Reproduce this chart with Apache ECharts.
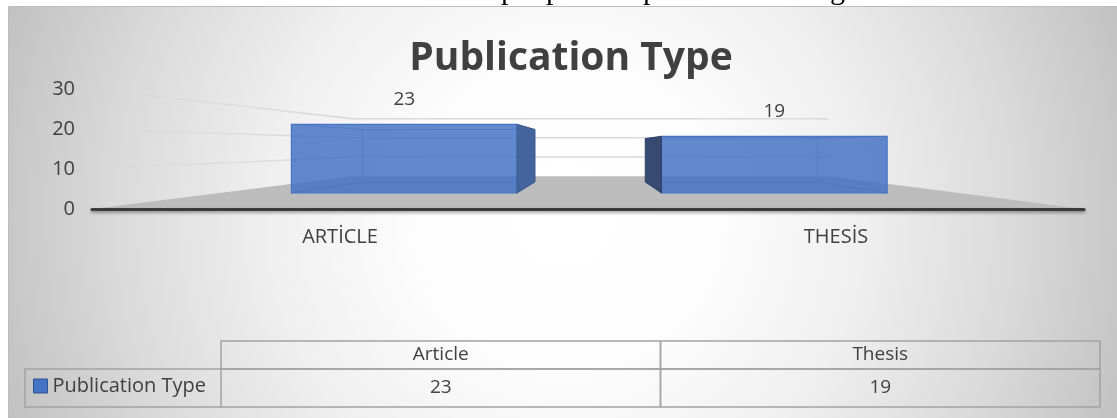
<!DOCTYPE html>
<html>
<head>
<meta charset="utf-8">
<script src="https://cdn.jsdelivr.net/npm/echarts@6/dist/echarts.min.js"></script>
<style>
  html, body { margin: 0; padding: 0; background: #ffffff; }
  #chart { width: 1117px; height: 418px; }
</style>
</head>
<body>
<div id="chart"></div>
<script>
// ---- chart data ----
const chartTitle = 'Publication Type';
const seriesName = 'Publication Type';
const categories = ['ARTİCLE', 'THESİS'];
const tableHeaders = ['Article', 'Thesis'];
const publicationCounts = [23, 19];
const valueTicks = [0, 10, 20, 30];
// tail of the caption line running above the chart
const captionGlyphs = ['p', 'p', 'p', 'g'];

// ---- look & perspective settings ----
const FONT = "'Open Sans', 'Noto Sans', sans-serif";
const TEXT_DARK = '#404040';
// vanishing point, as a fraction of the plot area
const VP_FX = 0.505, VP_FY = 0.475;
// how far each plane sits from the front plane (1 = front, smaller = deeper)
const DEPTH_BAR_FRONT = 0.746, DEPTH_BAR_BACK = 0.57, DEPTH_WALL = 0.48;
const BAR_FRACTION = 0.61;
const HEADER_ROW_H = 28;
const CAPTION_X = [501, 546, 643, 830];

function camera(cs) {
  const vx = cs.x + cs.width * VP_FX;
  const vy = cs.y + cs.height * VP_FY;
  const project = (x, y, f) => [vx + (x - vx) * f, vy + (y - vy) * f];
  project.vx = vx;
  return project;
}

// floor and wall gridlines of the 3-D frame
function renderFrame(params, api) {
  const cs = params.coordSys;
  const P = camera(cs);
  const v = api.value(1);
  const y = api.coord([0, v])[1];
  const xl = cs.x, xr = cs.x + cs.width;
  const bl = P(xl, y, DEPTH_WALL), br = P(xr, y, DEPTH_WALL);
  if (v === valueTicks[0]) {
    return {
      type: 'polygon',
      shape: { points: [[xl, y], [xr, y], br, bl] },
      style: { fill: '#bcbcbc' }
    };
  }
  return {
    type: 'group',
    children: [
      {
        type: 'line',
        shape: { x1: xl, y1: y, x2: bl[0], y2: bl[1] },
        style: {
          stroke: new echarts.graphic.LinearGradient(xl, y, bl[0], bl[1], [
            { offset: 0, color: 'rgba(215,215,215,0.25)' },
            { offset: 1, color: 'rgba(215,215,215,1)' }
          ], true),
          lineWidth: 1.5
        }
      },
      {
        type: 'line',
        shape: { x1: bl[0], y1: bl[1], x2: br[0], y2: br[1] },
        style: { stroke: '#d9d9d9', lineWidth: 1.5 }
      }
    ]
  };
}

// transparent 3-D box for each category
function renderBar(params, api) {
  const cs = params.coordSys;
  const P = camera(cs);
  const idx = api.value(0), val = api.value(1);
  const base = api.coord([idx, 0]);
  const top = api.coord([idx, val]);
  const half = api.size([1, 0])[0] * BAR_FRACTION / 2;
  const xl = base[0] - half, xr = base[0] + half, y0 = base[1], y1 = top[1];
  const face = f => [P(xl, y1, f), P(xr, y1, f), P(xr, y0, f), P(xl, y0, f)];
  const F = face(DEPTH_BAR_FRONT), B = face(DEPTH_BAR_BACK);
  const rightVisible = base[0] < P.vx;
  const side = rightVisible ? [F[1], B[1], B[2], F[2]] : [B[0], F[0], F[3], B[3]];
  const hiddenEdge = { stroke: 'rgba(45,85,165,0.45)', lineWidth: 1 };
  const ln = (a, b) => ({ type: 'line', shape: { x1: a[0], y1: a[1], x2: b[0], y2: b[1] }, style: hiddenEdge });
  const hidden = rightVisible
    ? [ln(B[0], B[1]), ln(B[3], B[2]), ln(B[0], B[3]), ln(F[0], B[0]), ln(F[3], B[3])]
    : [ln(B[0], B[1]), ln(B[3], B[2]), ln(B[1], B[2]), ln(F[1], B[1]), ln(F[2], B[2])];
  return {
    type: 'group',
    children: hidden.concat([
      {
        type: 'polygon',
        shape: { points: F },
        style: { fill: 'rgba(68,114,196,0.84)', stroke: '#4673c3', lineWidth: 1.2 }
      },
      {
        type: 'polygon',
        shape: { points: side },
        style: { fill: rightVisible ? '#44649d' : '#364a72', stroke: rightVisible ? '#3d5b90' : '#2f4066', lineWidth: 1 }
      },
      {
        type: 'text',
        style: {
          x: (F[0][0] + F[1][0]) / 2,
          y: F[0][1] - 25,
          text: String(val),
          font: '19px ' + FONT,
          fill: TEXT_DARK,
          align: 'center',
          verticalAlign: 'middle'
        }
      }
    ])
  };
}

// data table under the plot
function renderTableCell(params, api) {
  const cs = params.coordSys;
  const idx = api.value(0), val = api.value(1);
  const cx = api.coord([idx, 0])[0];
  const w = api.size([1, 0])[0];
  const x = cx - w / 2;
  const yTop = cs.y, yMid = cs.y + HEADER_ROW_H, yBot = cs.y + cs.height;
  const border = { fill: 'none', stroke: '#a3a3a3', lineWidth: 1.5 };
  return {
    type: 'group',
    children: [
      { type: 'rect', shape: { x: x, y: yTop, width: w, height: HEADER_ROW_H }, style: border },
      { type: 'rect', shape: { x: x, y: yMid, width: w, height: yBot - yMid }, style: border },
      {
        type: 'text',
        style: { x: cx, y: (yTop + yMid) / 2, text: tableHeaders[idx], font: '19px ' + FONT, fill: TEXT_DARK, align: 'center', verticalAlign: 'middle' }
      },
      {
        type: 'text',
        style: { x: cx, y: (yMid + yBot) / 2, text: String(val), font: '19px ' + FONT, fill: TEXT_DARK, align: 'center', verticalAlign: 'middle' }
      }
    ]
  };
}

const chart = echarts.init(document.getElementById('chart'), null, { renderer: 'canvas' });

const barData = publicationCounts.map((v, i) => [i, v]);

// only the descenders of the caption line reach into view
const captionTexts = captionGlyphs.map((g, i) => ({
  type: 'text',
  z: 20,
  style: {
    x: CAPTION_X[i],
    y: 6,
    text: g,
    font: "30px 'Liberation Serif', 'DejaVu Serif', serif",
    fill: '#000000',
    align: 'left',
    verticalAlign: 'bottom'
  }
}));

chart.setOption({
  animation: false,
  backgroundColor: '#ffffff',
  title: {
    text: chartTitle,
    left: 566,
    textAlign: 'center',
    top: 34,
    textStyle: { fontFamily: FONT, fontSize: 39, fontWeight: 'bold', color: TEXT_DARK }
  },
  legend: {
    data: [seriesName],
    left: 33,
    top: 376,
    padding: 0,
    icon: 'rect',
    itemWidth: 14,
    itemHeight: 14,
    itemGap: 6,
    itemStyle: { color: '#4472c4', borderColor: '#2f528f', borderWidth: 1 },
    textStyle: { fontFamily: FONT, fontSize: 20, color: TEXT_DARK },
    selectedMode: false
  },
  graphic: {
    elements: [
      {
        type: 'rect',
        z: -100,
        shape: { x: 8.5, y: 6.5, width: 1120, height: 420 },
        style: {
          fill: new echarts.graphic.RadialGradient(565, 215, 600, [
            { offset: 0, color: '#ffffff' },
            { offset: 0.25, color: '#fdfdfd' },
            { offset: 0.5, color: '#efefef' },
            { offset: 0.75, color: '#dadada' },
            { offset: 1, color: '#c0c0c0' }
          ], true),
          stroke: '#bdbdbd',
          lineWidth: 1
        }
      },
      {
        type: 'polyline',
        z: 10,
        shape: { points: [[221, 369], [25, 369], [25, 407], [221, 407]] },
        style: { stroke: '#a3a3a3', lineWidth: 1.5, fill: 'none' }
      }
    ].concat(captionTexts)
  },
  grid: [
    { left: 92, right: 33, top: 89, bottom: 209 },
    { left: 221, right: 17, top: 341, bottom: 11 }
  ],
  xAxis: [
    {
      gridIndex: 0,
      type: 'category',
      data: categories,
      z: 5,
      axisLine: {
        lineStyle: { color: '#3a3a3a', width: 3, shadowColor: 'rgba(0,0,0,0.35)', shadowBlur: 3, shadowOffsetY: 2 }
      },
      axisTick: { show: false },
      axisLabel: { fontFamily: FONT, fontSize: 20, color: TEXT_DARK, margin: 18 },
      splitLine: { show: false }
    },
    { gridIndex: 1, type: 'category', data: tableHeaders, show: false }
  ],
  yAxis: [
    {
      gridIndex: 0,
      type: 'value',
      min: 0,
      max: 30,
      interval: 10,
      axisLine: { show: false },
      axisTick: { show: false },
      axisLabel: { fontFamily: FONT, fontSize: 20, color: TEXT_DARK, margin: 17 },
      splitLine: { show: false }
    },
    { gridIndex: 1, type: 'value', min: 0, max: 1, show: false }
  ],
  series: [
    {
      type: 'custom',
      name: 'frame',
      xAxisIndex: 0,
      yAxisIndex: 0,
      z: 1,
      silent: true,
      clip: false,
      renderItem: renderFrame,
      encode: { x: 0, y: 1 },
      data: valueTicks.map(v => [0, v])
    },
    {
      type: 'custom',
      name: seriesName,
      xAxisIndex: 0,
      yAxisIndex: 0,
      z: 3,
      clip: false,
      itemStyle: { color: '#4472c4' },
      renderItem: renderBar,
      encode: { x: 0, y: 1 },
      data: barData
    },
    {
      type: 'custom',
      name: 'table',
      xAxisIndex: 1,
      yAxisIndex: 1,
      z: 3,
      silent: true,
      clip: false,
      renderItem: renderTableCell,
      encode: { x: 0, y: 1 },
      data: barData
    }
  ]
});
</script>
</body>
</html>
